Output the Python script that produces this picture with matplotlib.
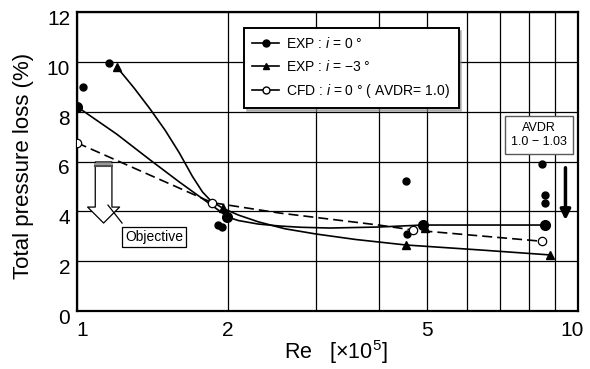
import numpy as np
import matplotlib
matplotlib.use('Agg')
import matplotlib.pyplot as plt
from matplotlib.lines import Line2D
from matplotlib.ticker import FixedLocator, NullFormatter
from matplotlib.transforms import ScaledTranslation

plt.rcParams['font.family'] = ['Liberation Sans', 'DejaVu Sans']
plt.rcParams['mathtext.fontset'] = 'custom'
plt.rcParams['mathtext.rm'] = 'Liberation Sans'
plt.rcParams['mathtext.it'] = 'Liberation Sans:italic'

# EXP : i = 0 deg  (fitted curve, points on the curve, scattered points)
re_fit0 = [1.0, 1.2, 1.4, 1.6, 1.76, 1.9, 2.0, 2.1, 2.3, 2.54, 2.8, 3.2, 4.0, 4.9, 6.5, 8.6]
loss_fit0 = [8.2, 7.1, 6.06, 5.18, 4.58, 4.1, 3.77, 3.63, 3.49, 3.41, 3.36, 3.33, 3.37, 3.45, 3.45, 3.45]
re_exp0_main = [1.0, 1.99, 4.9, 8.6]
loss_exp0_main = [8.2, 3.76, 3.45, 3.45]
re_exp0_extra = [1.03, 1.16, 1.91, 1.95, 4.53, 4.55, 8.46, 8.6, 8.6]
loss_exp0_extra = [9.0, 9.96, 3.45, 3.37, 5.2, 3.09, 5.9, 4.66, 4.35]

# EXP : i = -3 deg
re_fit3 = [1.2, 1.3, 1.4, 1.5, 1.6, 1.7, 1.78, 1.85, 1.956, 2.1, 2.3, 2.6, 3.0, 3.6, 4.53, 6.37, 8.8]
loss_fit3 = [9.8, 8.95, 8.1, 7.25, 6.35, 5.4, 4.78, 4.42, 4.12, 3.85, 3.58, 3.3, 3.09, 2.87, 2.65, 2.45, 2.25]
re_exp3 = [1.2, 1.954, 4.53, 4.95, 8.8]
loss_exp3 = [9.8, 4.13, 2.65, 3.32, 2.25]

# CFD : i = 0 deg (AVDR = 1.0)
re_cfd_line = [1.0, 1.86, 2.54, 4.0, 4.68, 8.46]
loss_cfd_line = [6.75, 4.35, 3.93, 3.45, 3.25, 2.8]
re_cfd = [1.0, 1.86, 4.68, 8.46]
loss_cfd = [6.75, 4.35, 3.25, 2.8]

legend_labels = ['EXP : $i$ = 0 \u00b0', 'EXP : $i$ = \u22123 \u00b0',
                 'CFD : $i$ = 0 \u00b0 ( AVDR= 1.0)']

fig = plt.figure(figsize=(5.9, 3.69), dpi=100)
ax = fig.add_axes([77/590, 1 - 311/369, 501/590, 299/369])
ax.set_xscale('log')
ax.set_xlim(1, 10)
ax.set_ylim(0, 12)

# grid
ax.xaxis.set_major_locator(FixedLocator([1, 2, 5, 10]))
ax.xaxis.set_minor_locator(FixedLocator([3, 4, 6, 7, 8, 9]))
ax.xaxis.set_minor_formatter(NullFormatter())
ax.set_xticklabels(['1', '2', '5', '10'])
ax.set_yticks([0, 2, 4, 6, 8, 10, 12])
ax.grid(True, which='both', axis='x', color='black', lw=0.9)
ax.grid(True, which='major', axis='y', color='black', lw=0.9)
ax.set_axisbelow(True)
ax.tick_params(which='both', length=0, labelsize=15)
ax.tick_params(axis='x', pad=7)
ax.tick_params(axis='y', pad=5)
for sp in ax.spines.values():
    sp.set_linewidth(1.6)

for lab in ax.get_yticklabels():
    lab.set_transform(lab.get_transform() + ScaledTranslation(0, -0.055, fig.dpi_scale_trans))
xl = ax.get_xticklabels()
xl[0].set_transform(xl[0].get_transform() + ScaledTranslation(0.05, 0, fig.dpi_scale_trans))
xl[-1].set_transform(xl[-1].get_transform() + ScaledTranslation(-0.06, 0, fig.dpi_scale_trans))

# curves
ax.plot(re_fit0, loss_fit0, color='black', lw=1.2, zorder=3)
ax.plot(re_fit3, loss_fit3, color='black', lw=1.2, zorder=3)
ax.plot(re_cfd_line, loss_cfd_line, color='black', lw=1.2, ls=(0, (6, 3)), zorder=3)

# markers
ax.plot(re_exp0_main, loss_exp0_main, 'o', color='black', ms=7, zorder=4)
ax.plot(re_exp0_extra, loss_exp0_extra, 'o', color='black', ms=5, zorder=4)
ax.plot(re_exp3, loss_exp3, '^', color='black', ms=6, zorder=4)
ax.plot(re_cfd, loss_cfd, 'o', mfc='white', mec='black', mew=0.9, ms=6, zorder=4)

# legend
handles = [Line2D([], [], color='black', lw=1.2, marker='o', ms=5),
           Line2D([], [], color='black', lw=1.2, marker='^', ms=5),
           Line2D([], [], color='black', lw=1.2, marker='o', ms=5, mfc='white')]
leg = ax.legend(handles, legend_labels, loc='upper left',
                bbox_to_anchor=((244 - 77) / 501, (311 - 28) / 299),
                borderaxespad=0, fontsize=10, frameon=True, fancybox=False,
                edgecolor='black', framealpha=1, shadow={'color': '0.55'},
                handlelength=1.9, handletextpad=0.55, labelspacing=0.55,
                borderpad=0.6)
leg.get_frame().set_linewidth(1.4)
leg.set_zorder(6)

# AVDR note and arrow
ax.text(8.36, 7.06, 'AVDR\n1.0 \u2212 1.03', ha='center', va='center', fontsize=9,
        linespacing=1.3, zorder=6,
        bbox=dict(boxstyle='square,pad=0.45', fc='white', ec='0.35', lw=1.0))
ax.annotate('', xy=(9.44, 3.65), xytext=(9.44, 5.75),
            arrowprops=dict(arrowstyle='-|>,head_length=0.6,head_width=0.3',
                            color='black', lw=2.5, shrinkA=0, shrinkB=0), zorder=6)

# Objective hollow arrow
obj_x = 1.13
ax.annotate('', xy=(obj_x, 3.53), xytext=(obj_x, 5.98),
            arrowprops=dict(arrowstyle='simple,head_length=11.5,head_width=23,tail_width=12',
                            mutation_scale=1, fc='white', ec='black', lw=0.9,
                            shrinkA=0, shrinkB=0), zorder=5)
ax.plot([1.088, 1.172], [5.8, 5.8], color='0.3', lw=1.5, zorder=6)
ax.plot([1.088, 1.172], [5.9, 5.9], color='0.6', lw=1.5, zorder=6)
ax.plot([1.153, 1.23], [4.25, 3.53], color='black', lw=0.9, zorder=6)
ax.text(1.425, 2.97, 'Objective', ha='center', va='center', fontsize=10, zorder=6,
        bbox=dict(boxstyle='square,pad=0.2', fc='white', ec='black', lw=0.9))

# axis labels
ax.set_xlabel('Re   [\u00d710$^5$]', fontsize=15.5)
ax.xaxis.set_label_coords((336 - 77) / 501, (311 - 352) / 299)
ax.xaxis.label.set_va('center')
ax.set_ylabel('Total pressure loss (%)', fontsize=16)
ax.yaxis.set_label_coords((24 - 77) / 501, (311 - 166) / 299)
ax.yaxis.label.set_va('center')

plt.savefig('out.png', dpi=100)
